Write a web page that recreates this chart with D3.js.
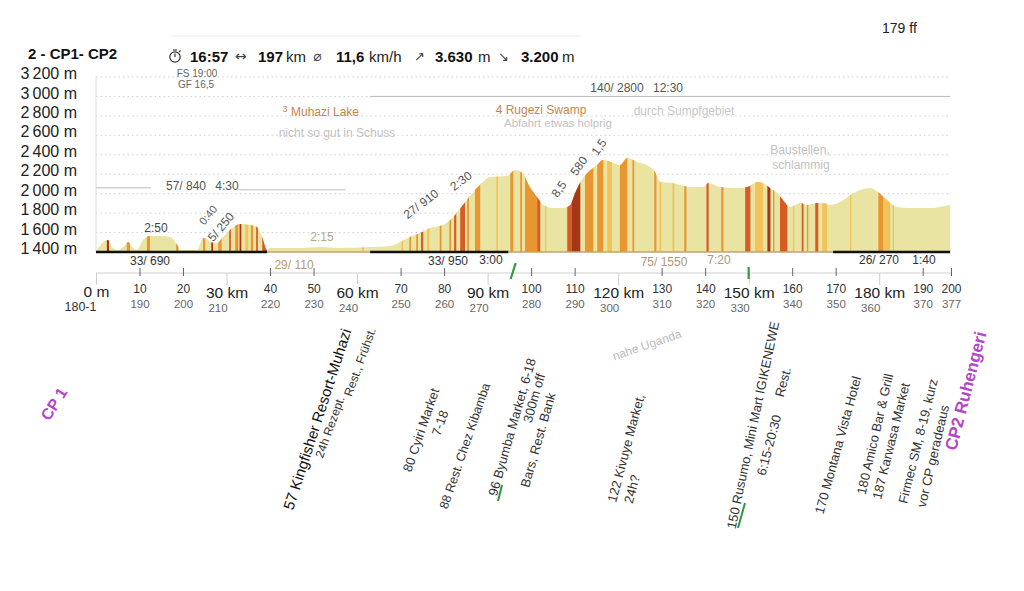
<!DOCTYPE html>
<html><head><meta charset="utf-8">
<script src="https://cdn.jsdelivr.net/npm/d3@7"></script>
<style>
html,body{margin:0;padding:0;background:#fff;}
svg{display:block;font-family:"Liberation Sans",Arial,sans-serif;}
</style></head>
<body>
<svg id="c" width="1024" height="591"></svg>
<script>
// ---------- DATA ----------
const profileKm   = [0,2.7,3.9,5.1,6.2,7.4,8.5,9.4,10.8,12.4,14.7,17.0,18.7,19.5,23.3,24.6,25.5,26.2,27.8,29.2,31.3,33.1,35.4,37.0,38.2,39.3,40.0,46.9,51.5,56.0,63.0,67.6,69.9,72.1,74.5,76.8,79.8,82.1,84.3,86.7,88.2,90.6,94.5,96.3,98.0,99.7,101.4,102.8,105.0,107.4,109.0,110.1,111.2,112.9,115.1,116.5,118.9,120.4,122.1,124.4,126.6,128.5,129.7,132.6,134.3,136.5,139.6,140.7,143.4,147.3,149.7,152.0,153.3,154.9,156.6,157.9,159.5,161.9,163.4,165.8,167.2,168.7,171.0,173.4,175.6,178.0,179.7,181.8,184.1,187.1,191.7,196.3];
const profileElev = [1410,1523,1441,1421,1451,1503,1441,1421,1523,1565,1565,1554,1472,1421,1421,1544,1534,1503,1493,1554,1647,1688,1678,1657,1554,1421,1441,1441,1451,1441,1451,1462,1503,1554,1595,1647,1678,1760,1884,2017,2089,2172,2182,2244,2213,2069,1966,1884,1853,1853,1884,2007,2110,2213,2295,2347,2316,2295,2367,2326,2295,2223,2120,2110,2089,2069,2069,2110,2069,2059,2069,2120,2110,2059,2007,1935,1863,1904,1884,1904,1904,1884,1915,1987,2038,2059,2017,1935,1863,1853,1853,1884];

// steepness stripes: start km, end km, steepness level (1..4)
const stripeStart = [2.5,7.1,11.7,18.4,24.6,26.5,28.1,30.6,32.0,33.0,34.3,35.6,36.8,38.2,61.2,70.2,72.0,73.6,74.7,76.1,79.0,81.2,82.3,83.7,85.3,87.1,92.0,95.2,97.5,98.6,101.4,103.2,108.3,109.4,112.4,115.2,117.5,120.4,123.3,128.3,129.5,132.5,135.2,140.3,143.7,149.2,151.5,154.3,155.6,157.2,160.2,162.2,163.4,165.3,166.9,173.3,179.8,181.0,183.1];
const stripeEnd   = [3.0,7.8,12.4,18.9,25.1,26.9,28.9,31.0,32.7,33.4,35.0,36.1,37.2,39.3,61.6,70.6,72.4,74.0,75.2,76.6,79.4,81.6,82.8,84.8,85.7,88.3,92.4,95.9,97.9,101.4,102.1,103.5,109.4,111.3,114.3,116.6,118.6,122.1,123.7,128.8,129.9,132.9,135.7,140.8,144.2,150.4,153.3,155.0,155.9,158.9,160.5,162.6,163.7,166.0,168.0,173.6,181.0,182.5,183.4];
const stripeLevel = [4,2,2,2,2,4,2,3,2,4,1,2,3,3,1,1,2,2,3,1,2,2,3,3,2,2,1,2,2,2,3,1,3,4,2,2,1,2,2,2,1,1,2,3,2,3,1,4,2,3,1,3,2,3,1,1,2,1,1];

// route segments along the base
const segStart = [0,39.3,63.0,94.8,169.4];
const segEnd   = [39.3,63.0,94.8,169.4,196.3];
const segKind  = ["main","alt","main","alt","main"];
const segLabel = ["33/ 690","29/ 110","33/ 950","75/ 1550","26/ 270"];
const segTime  = ["","","3:00","7:20","1:40"];

const yTicks = [1400,1600,1800,2000,2200,2400,2600,2800,3000,3200];
const xTicks = [0,10,20,30,40,50,60,70,80,90,100,110,120,130,140,150,160,170,180,190,200];
const xSubLabels = ["180-1","190","200","210","220","230","240","250","260","270","280","290","300","310","320","330","340","350","360","370","377"];
const markKm = [96,150];

const statValues = ["16:57","197","11,6","3.630","3.200"];
const statUnits  = ["","km","km/h","m","m"];

// ---------- LAYOUT ----------
const svg = d3.select("#c");
const x = d3.scaleLinear().domain([0,196.5]).range([96,951]).clamp(true);
const y = d3.scaleLinear().domain([1400,3200]).range([252,77]);
const stripeColor = {1:"#f1c35a",2:"#e89632",3:"#d65c26",4:"#a53718"};

// header
svg.append("text").attr("x",28).attr("y",53).attr("dominant-baseline","central")
  .style("font-size","15px").style("font-weight","bold").attr("fill","#111").text("2 - CP1- CP2");
svg.append("line").attr("x1",170).attr("x2",580).attr("y1",36).attr("y2",36).attr("stroke","#ececec");
svg.append("text").attr("x",882).attr("y",28).attr("dominant-baseline","central")
  .style("font-size","14px").attr("fill","#222").text("179 ff");
// stopwatch icon
const sw = svg.append("g").attr("stroke","#333").attr("fill","none").attr("stroke-width",1.2);
sw.append("circle").attr("cx",175).attr("cy",57).attr("r",5.2);
sw.append("line").attr("x1",175).attr("y1",57).attr("x2",175).attr("y2",53.5);
sw.append("line").attr("x1",173).attr("y1",50).attr("x2",177).attr("y2",50);
sw.append("line").attr("x1",179).attr("y1",52).attr("x2",180.5).attr("y2",50.5);
const statX = [190,258,336,435,521], unitX=[0,286,369,478,562];
const icons = [["\u2194",235,14],["\u2300",313,14],["\u2197",414,13],["\u2198",498,13]];
icons.forEach(([t,px,fs])=>svg.append("text").attr("x",px).attr("y",56).attr("dominant-baseline","central")
  .style("font-family","DejaVu Sans").style("font-size",fs+"px").attr("fill","#444").text(t));
statValues.forEach((v,i)=>{
  svg.append("text").attr("x",statX[i]).attr("y",56).attr("dominant-baseline","central")
    .style("font-size","15px").style("font-weight","bold").attr("fill","#111").text(v);
  if(statUnits[i]) svg.append("text").attr("x",unitX[i]).attr("y",56).attr("dominant-baseline","central")
    .style("font-size","15px").attr("fill","#222").text(statUnits[i]);
});

// grid
svg.append("g").selectAll("line").data(yTicks.filter(t=>t>1400)).join("line")
  .attr("x1",96).attr("x2",951).attr("y1",d=>y(d)).attr("y2",d=>y(d))
  .attr("stroke","#cfcfcf").attr("stroke-dasharray","1.5,3");
svg.append("line").attr("x1",96).attr("x2",96).attr("y1",y(3200)).attr("y2",y(1400)).attr("stroke","#dcdcdc");

// y axis
const ya = svg.append("g").attr("transform","translate(80,-3.5)")
  .call(d3.axisLeft(y).tickValues(yTicks).tickSize(0).tickPadding(3)
    .tickFormat(t=>`${Math.floor(t/1000)}\u2009${String(t%1000).padStart(3,"0")} m`));
ya.select(".domain").remove();
ya.selectAll("text").style("font-size","16px").style("font-family","Liberation Sans").attr("fill","#222");

// profile
const pts = profileKm.map((k,i)=>[k,profileElev[i]]);
const area = d3.area().x(d=>x(d[0])).y0(y(1400)).y1(d=>y(d[1])).curve(d3.curveMonotoneX);
svg.append("clipPath").attr("id","pclip").append("path").attr("d",area(pts));
svg.append("path").attr("d",area(pts)).attr("fill","#e9e4a2");
svg.append("g").attr("clip-path","url(#pclip)").selectAll("rect").data(stripeStart).join("rect")
  .attr("x",(d,i)=>x(d)).attr("width",(d,i)=>Math.max(1,x(stripeEnd[i])-x(d)))
  .attr("y",y(3200)).attr("height",y(1400)-y(3200))
  .attr("fill",(d,i)=>stripeColor[stripeLevel[i]]);

// segment lines along base
svg.append("g").selectAll("line").data(segStart).join("line")
  .attr("x1",d=>x(d)).attr("x2",(d,i)=>x(segEnd[i])).attr("y1",252).attr("y2",252)
  .attr("stroke",(d,i)=>segKind[i]==="main"?"#111":"#c9a06e")
  .attr("stroke-width",(d,i)=>segKind[i]==="main"?2.6:1.6);

// top summary lines
[[0,12.6,2060],[32.4,57.4,2040],[63,196.3,3000]].forEach(([a,b,e])=>
  svg.append("line").attr("x1",x(a)).attr("x2",x(b)).attr("y1",y(e)).attr("y2",y(e))
    .attr("stroke","#bdbdbd").attr("stroke-width",1));

// x axis
const xa = svg.append("g").attr("transform","translate(0,273)")
  .call(d3.axisBottom(x).tickValues(xTicks).tickSize(0)
    .tickFormat(t=>t===0?"0 m":(t%30===0?`${t} km`:`${t}`)));
xa.select(".domain").attr("stroke","#cfcfcf").attr("d",`M${x(0)},0H${x(200)}`);
xa.selectAll(".tick text").attr("dy","0.35em")
  .attr("y",t=>t===0?19:(t%30===0?20:16))
  .style("font-size",t=>t%30===0?"15.5px":"12px").attr("fill",t=>t%30===0?"#222":"#333");
xa.selectAll(".tick").append("line")
  .attr("y1",t=>t%30===0?0:-5).attr("y2",t=>t%30===0?12:3)
  .attr("stroke",t=>t%30===0?"#cfcfcf":"#666");
const xb = svg.append("g").attr("transform","translate(0,273)")
  .call(d3.axisBottom(x).tickValues(xTicks).tickSize(0).tickFormat((t,i)=>xSubLabels[i]));
xb.select(".domain").remove();
xb.selectAll(".tick text").attr("dy","0.35em").attr("y",t=>t===0?34:(t%30===0?35:31))
  .attr("dx",t=>t===0?-16:(t%30===0?-9:0))
  .style("font-size",t=>t===0?"12.5px":"11.5px").attr("fill",t=>t===0?"#333":"#666");
// green markers
svg.append("g").selectAll("line").data(markKm).join("line")
  .attr("x1",(d,i)=>x(d)+(i===0?2:0)).attr("x2",(d,i)=>x(d)-(i===0?3:0))
  .attr("y1",(d,i)=>i===0?263:267).attr("y2",279)
  .attr("stroke","#2e9a3c").attr("stroke-width",2.2);

// ---------- ANNOTATIONS ----------
// [text, cx, cy, rotate, size, color, weight]
const notes = [
 ["FS 19:00",197,73,0,10,"#666"],["GF 16,5",196,84,0,10,"#666"],
 ["57/ 840",186,186,0,12,"#555"],["4:30",227,186,0,12,"#555"],
 ["140/ 2800",617,88,0,12,"#555"],["12:30",668,88,0,12,"#555"],
 ["3",285,109,0,9,"#c4844c"],["Muhazi Lake",325,112,0,12,"#c4844c"],
 ["nicht so gut in Schuss",337,133,0,12,"#c2c2c2"],
 ["4 Rugezi Swamp",541,110,0,12,"#c4844c"],
 ["Abfahrt etwas holprig",558,123,0,11.5,"#c2c2c2"],
 ["durch Sumpfgebiet",684,111,0,12,"#c6c6c6"],
 ["Baustellen,",800,150,0,12,"#c2c2c2"],["schlammig",801,165,0,12,"#c2c2c2"],
 ["2:50",156,228,0,12,"#444"],
 ["0:40",208,215,-50,11,"#666"],["5/ 250",221,227,-50,12,"#555"],
 ["2:15",322,237,0,12,"#b3a88c"],
 ["27/ 910",421,204,-37,12,"#555"],["2:30",461,181,-37,12,"#555"],
 ["8,5",559,189,-55,12,"#555"],["580",579,166,-55,12,"#555"],["1,5",599,147,-55,12,"#555"],
 ["33/ 690",150,261,0,12,"#333"],["29/ 110",294,265,0,12,"#b89a70"],
 ["33/ 950",448,261,0,12,"#333"],["3:00",491,260,0,12,"#333"],
 ["75/ 1550",664,262,0,12,"#a8987a"],["7:20",719,260,0,12,"#a8987a"],
 ["26/ 270",879,260,0,12,"#333"],["1:40",924,260,0,12,"#333"],
 ["CP 1",54,404,-58,16,"#b446c8","bold"],
 ["57 Kingfisher Resort-Muhazi",317,419,-72,15,"#111"],
 ["24h Rezept.",330,427,-70,12,"#333"],["Rest., Frühst.",360,362,-70,12,"#333"],
 ["80 Cyiri Market",421,430,-71,13,"#333"],["7-18",440,423,-71,13,"#333"],
 ["88 Rest. Chez Kibamba",465,446,-71,12.5,"#333"],
 ["96 Byumba Market, 6-18",512,427,-74,13,"#333"],["300m off",534,398,-74,13,"#333"],
 ["Bars, Rest. Bank",538,440,-74,13,"#333"],
 ["nahe Uganda",647,345,-19,12,"#bbbbbb"],
 ["122 Kivuye Market,",626,448,-75,13,"#333"],["24h?",632,489,-75,13,"#333"],
 ["150 Rusumo, Mini Mart IGIKENEWE",753,425,-78,13,"#333"],["6:15-20:30",769,445,-75,13,"#333"],
 ["Rest.",783,382,-75,13,"#333"],
 ["170 Montana Vista Hotel",838,445,-74.5,13,"#333"],
 ["180 Amico Bar & Grill",875,434,-77,13,"#333"],["187 Karwasa Market",891,441,-76,13,"#333"],
 ["Firmec SM, 8-19, kurz",918,441,-76,13,"#333"],["vor CP geradeaus",933,456,-77,13,"#333"],
 ["CP2 Ruhengeri",966,391,-75.5,17,"#b446c8","bold"]
];
svg.append("g").selectAll("text").data(notes).join("text")
  .attr("x",d=>d[1]).attr("y",d=>d[2]).attr("text-anchor","middle").attr("dominant-baseline","central")
  .attr("transform",d=>d[3]?`rotate(${d[3]},${d[1]},${d[2]})`:null)
  .style("font-size",d=>d[4]+"px").style("font-weight",d=>d[6]||"normal").attr("fill",d=>d[5])
  .text(d=>d[0]);
// green underline marks under labels
[[502,485,498,501],[745,503,738,528]].forEach(([a,b,c,d])=>
  svg.append("line").attr("x1",a).attr("y1",b).attr("x2",c).attr("y2",d)
    .attr("stroke","#2e9a3c").attr("stroke-width",2));
</script>
</body></html>
